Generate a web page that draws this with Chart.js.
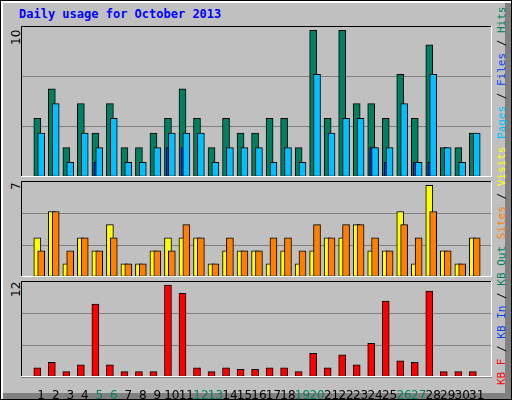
<!DOCTYPE html>
<html>
<head>
<meta charset="utf-8">
<script src="https://cdn.jsdelivr.net/npm/chart.js@4"></script>
<style>
  body { margin: 0; background: #fff; }
  #frame { position: absolute; left: 0; top: 0; width: 510px; height: 398px; background: #c0c0c0;
    border: 1px solid #000; box-shadow: inset 2px 2px 0 #fff, inset -6px -6px 0 #808080; }
  .panel { position: absolute; left: 20px; width: 471px; }
  .mono { position: absolute; font-family: "DejaVu Sans Mono", monospace; font-size: 11px; white-space: nowrap; }
  .up { transform-origin: 0 0; transform: rotate(-90deg); }
</style>
</head>
<body>
<div id="frame">
  <div class="mono" style="left:18px;top:6px;color:#0000ff;font-weight:bold;font-size:12px">Daily usage for October 2013</div>
  <div class="mono up" style="left:8px;top:44px;font-family:'DejaVu Sans';font-size:12px">10</div>
  <div class="mono up" style="left:8px;top:189px;font-family:'DejaVu Sans';font-size:12px">7</div>
  <div class="mono up" style="left:8px;top:296px;font-family:'DejaVu Sans';font-size:12px">12</div>
  <div class="mono up" style="left:494px;top:138px"><span style="color:#00c0ff">Pages</span> / <span style="color:#0040ff">Files</span> / <span style="color:#008060">Hits</span></div>
  <div class="mono up" style="left:494px;top:384px"><span style="color:#ff0000">KB F</span> / <span style="color:#0040ff">KB In</span> / <span style="color:#008060">KB Out</span> <span style="color:#ff8000">Sites</span> / <span style="color:#ffff00">Visits</span></div>
  <div class="panel" style="top:25px;height:151px"><canvas id="c1"></canvas></div>
  <div class="panel" style="top:180px;height:96px"><canvas id="c2"></canvas></div>
  <div class="panel" style="top:280px;height:120px"><canvas id="c3"></canvas></div>
</div>
<script>
const days = Array.from({length: 31}, (_, i) => i + 1);
const weekends = [5, 6, 12, 13, 19, 20, 26, 27];

const hits   = [4,6,2,5,3,5,2,2,3,4,6,4,2,4,3,3,4,4,2,10,4,10,5,5,4,7,4,9,2,2,3];
const pages  = [3,5,1,3,2,4,1,1,2,3,3,3,1,2,2,2,1,2,1,7,3,4,4,2,2,5,1,7,2,1,3];
const files  = [0,0,0,0,1,0,0,0,0,2,2,0,0,0,0,0,0,0,0,0,0,0,0,2,1,0,1,1,0,0,0];
const visits = [3,5,1,3,2,4,1,1,2,3,3,3,1,2,2,2,1,2,1,2,3,3,4,2,2,5,1,7,2,1,3];
const sites  = [2,5,2,3,2,3,1,1,2,2,4,3,1,3,2,2,3,3,2,4,3,4,4,3,2,4,3,5,2,1,3];
const kbytes = [1.2,1.9,0.7,1.6,9.5,1.6,0.7,0.7,0.7,12,10.9,1.2,0.7,1.2,1.0,1.0,1.2,1.2,0.7,3.1,1.2,2.9,1.6,4.4,9.9,2.1,1.9,11.2,0.7,0.7,0.7];

// top-of-scale values (the labelled maximum sits a little below the panel top)
const maxTop = 10.29, maxMid = 7.33, maxBot = 12.52;

const pts = (vals, off) => vals.map((v, i) => ({x: days[i] + off, y: v}));

const framePlugin = {
  id: 'frame',
  afterDraw(chart) {
    const a = chart.chartArea, c = chart.ctx;
    c.save();
    c.lineWidth = 1;
    c.strokeStyle = '#000';
    c.beginPath(); c.moveTo(a.left + 0.5, a.bottom); c.lineTo(a.left + 0.5, a.top + 0.5); c.lineTo(a.right, a.top + 0.5); c.stroke();
    c.strokeStyle = '#fff';
    c.beginPath(); c.moveTo(a.right - 0.5, a.top); c.lineTo(a.right - 0.5, a.bottom - 0.5); c.lineTo(a.left, a.bottom - 0.5); c.stroke();
    c.restore();
  }
};

function bar(data, color, order) {
  return { data, backgroundColor: color, borderColor: '#000', borderWidth: 1,
           borderSkipped: false, barThickness: 7, grouped: false, order };
}

function makeChart(id, datasets, max, showX) {
  return new Chart(document.getElementById(id), {
    type: 'bar',
    data: { datasets },
    options: {
      responsive: true, maintainAspectRatio: false, animation: false,
      layout: { padding: 0 },
      plugins: { legend: { display: false }, tooltip: { enabled: false } },
      scales: {
        x: {
          type: 'linear', min: 0.133, max: 31.53, display: showX,
          grid: { display: false }, border: { display: false },
          afterBuildTicks: s => { s.ticks = days.map(d => ({value: d})); },
          afterFit: s => { if (showX) s.height = 24; },
          ticks: { autoSkip: false, maxRotation: 0, padding: 4,
                   font: { family: 'DejaVu Sans', size: 12 },
                   color: ctx => weekends.includes(ctx.tick.value) ? '#008060' : '#000' }
        },
        y: {
          min: 0, max,
          afterBuildTicks: s => { s.ticks = [0, max / 3, 2 * max / 3, max].map(v => ({value: v})); },
          afterFit: s => { s.width = 0; },
          ticks: { display: false },
          grid: { color: '#808080', drawTicks: false },
          border: { display: false }
        }
      }
    },
    plugins: [framePlugin]
  });
}

makeChart('c1', [
  bar(pts(hits, -0.267), '#008060', 2),
  bar(pts(files, -0.133), '#0040ff', 1),
  bar(pts(pages, 0), '#00c0ff', 0)
], maxTop, false);

makeChart('c2', [
  bar(pts(visits, -0.267), '#ffff00', 1),
  bar(pts(sites, 0), '#ff8000', 0)
], maxMid, false);

makeChart('c3', [
  bar(pts(kbytes, -0.267), '#ff0000', 0)
], maxBot, true);
</script>
</body>
</html>
